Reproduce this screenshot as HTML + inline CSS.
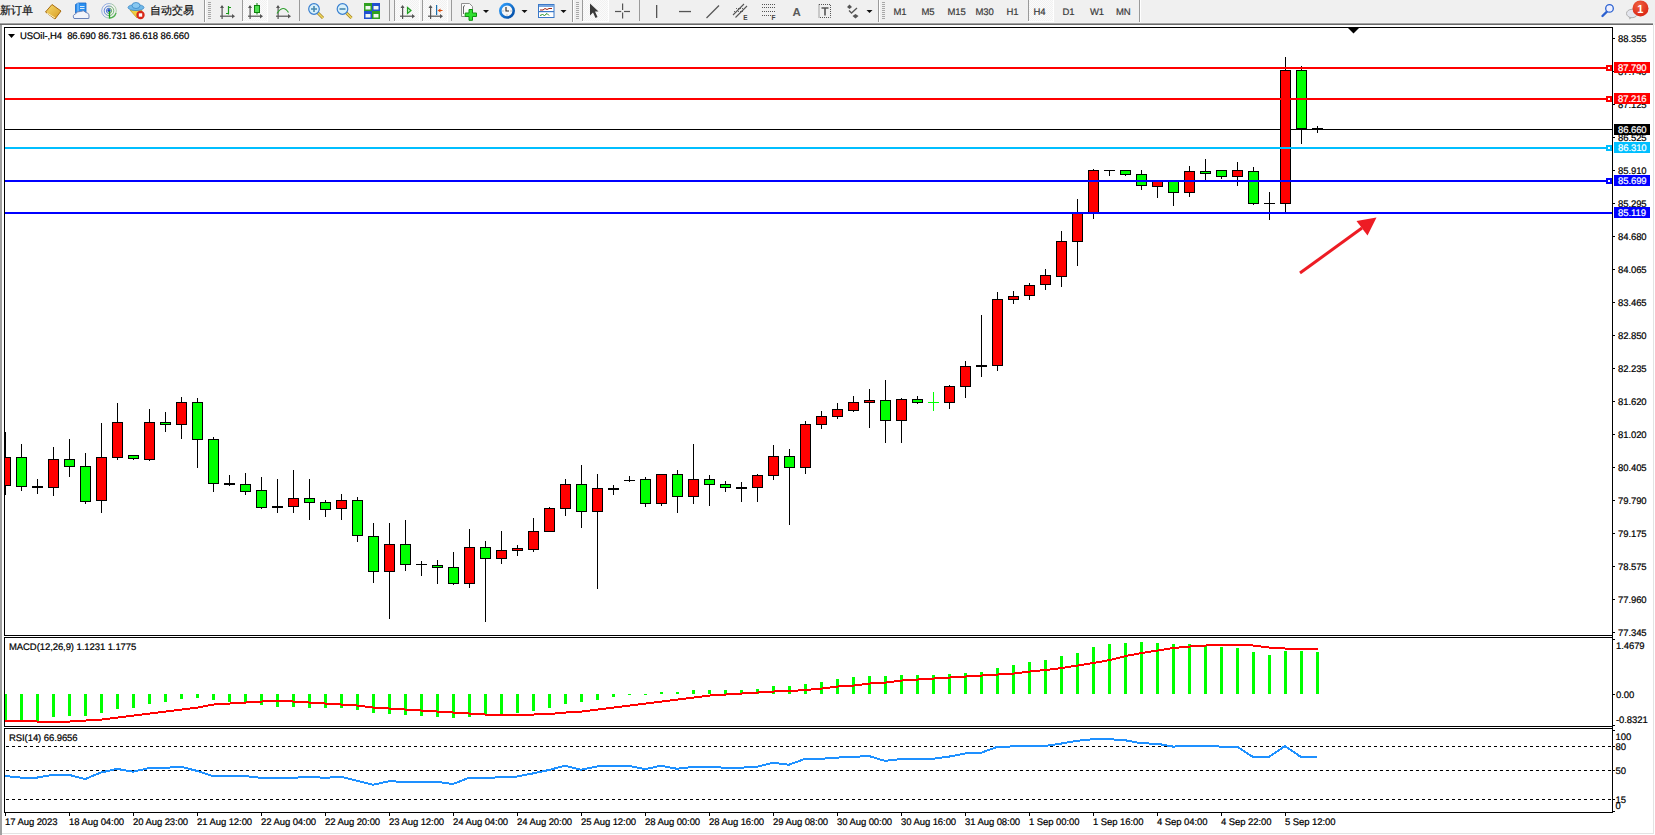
<!DOCTYPE html>
<html><head><meta charset="utf-8"><style>
html,body{margin:0;padding:0;width:1655px;height:835px;overflow:hidden;background:#fff;font-family:"Liberation Sans", sans-serif;}
#tb{position:absolute;left:0;top:0;width:1655px;height:25px;background:#f0f0f0;}
text{white-space:pre} svg text{stroke:currentColor;stroke-width:0.2px}
</style></head><body>
<div id="tb"><svg width="1655" height="25" style="position:absolute;left:0;top:0" font-family='"Liberation Sans", sans-serif'>
<defs>
<pattern id="chk" width="2" height="2" patternUnits="userSpaceOnUse"><rect width="2" height="2" fill="#fbfbfb"/><rect width="1" height="1" fill="#f1f1f1"/><rect x="1" y="1" width="1" height="1" fill="#f1f1f1"/></pattern>
<linearGradient id="clk" x1="0" y1="0" x2="1" y2="1"><stop offset="0" stop-color="#30a0ff"/><stop offset="1" stop-color="#0048a0"/></linearGradient>
<linearGradient id="gold" x1="0" y1="0" x2="1" y2="1"><stop offset="0" stop-color="#f6dc70"/><stop offset="1" stop-color="#d89a20"/></linearGradient>
<radialGradient id="badge" cx="0.4" cy="0.3" r="0.8"><stop offset="0" stop-color="#f06040"/><stop offset="1" stop-color="#d82010"/></radialGradient>
</defs>
<rect x="0" y="0" width="1655" height="22" fill="#f0f0f0"/>
<rect x="0" y="22" width="1655" height="1" fill="#f4f4f4"/>
<rect x="0" y="23" width="1653" height="1" fill="#a2a2a2"/>
<rect x="0" y="24" width="1653" height="1" fill="#6a6a6a"/>
<!-- pressed buttons -->
<rect x="243" y="0" width="24" height="21" fill="url(#chk)"/><rect x="242" y="21" width="26" height="1" fill="#fff"/><rect x="267" y="0" width="1" height="21" fill="#fff"/>
<rect x="395" y="0" width="24" height="21" fill="url(#chk)"/><rect x="394" y="21" width="26" height="1" fill="#fff"/><rect x="419" y="0" width="1" height="21" fill="#fff"/>
<rect x="423" y="0" width="24" height="21" fill="url(#chk)"/><rect x="422" y="21" width="26" height="1" fill="#fff"/><rect x="447" y="0" width="1" height="21" fill="#fff"/>
<rect x="583" y="0" width="25" height="21" fill="url(#chk)"/><rect x="582" y="21" width="27" height="1" fill="#fff"/><rect x="608" y="0" width="1" height="21" fill="#fff"/>
<rect x="1029" y="0" width="24" height="21" fill="url(#chk)"/><rect x="1028" y="21" width="26" height="1" fill="#fff"/><rect x="1053" y="0" width="1" height="21" fill="#fff"/>

<!-- separators -->
<g fill="#9a9a9a">
<rect x="204" y="0" width="1" height="22"/><rect x="242" y="0" width="1" height="21"/><rect x="299" y="0" width="1" height="21"/>
<rect x="389" y="0" width="1" height="21"/><rect x="394" y="0" width="1" height="21"/><rect x="422" y="0" width="1" height="21"/>
<rect x="451" y="0" width="1" height="21"/><rect x="572" y="0" width="1" height="22"/><rect x="582" y="0" width="1" height="21"/>
<rect x="639" y="0" width="1" height="21"/><rect x="878" y="0" width="1" height="22"/><rect x="1028" y="0" width="1" height="21"/>
<rect x="1139" y="0" width="1" height="22"/>
</g>
<g fill="#ffffff"><rect x="205" y="0" width="1" height="22"/><rect x="573" y="0" width="1" height="22"/><rect x="879" y="0" width="1" height="22"/><rect x="1140" y="0" width="1" height="22"/></g>
<!-- grips -->
<g fill="#a8a8a8">
<path d="M208 2h3v1h-3zM208 4h3v1h-3zM208 6h3v1h-3zM208 8h3v1h-3zM208 10h3v1h-3zM208 12h3v1h-3zM208 14h3v1h-3zM208 16h3v1h-3zM208 18h3v1h-3z"/>
<path d="M576 2h3v1h-3zM576 4h3v1h-3zM576 6h3v1h-3zM576 8h3v1h-3zM576 10h3v1h-3zM576 12h3v1h-3zM576 14h3v1h-3zM576 16h3v1h-3zM576 18h3v1h-3z"/>
<path d="M882 2h3v1h-3zM882 4h3v1h-3zM882 6h3v1h-3zM882 8h3v1h-3zM882 10h3v1h-3zM882 12h3v1h-3zM882 14h3v1h-3zM882 16h3v1h-3zM882 18h3v1h-3z"/>
</g>
<!-- CJK text -->
<text x="-0.5" y="13.6" font-size="11.2" fill="#1a1a1a">新订单</text>
<text x="150" y="13.6" font-size="11.2" fill="#1a1a1a">自动交易</text>
<!-- book -->
<path d="M45.5 12 L52 4.5 L61 11 L55 19 Z" fill="url(#gold)" stroke="#a86c10" stroke-width="1"/>
<path d="M47 13 L55 18" stroke="#fff3c0" stroke-width="1"/>
<!-- cloud icon -->
<path d="M75.5 4.5 L78 3 L86 3 L86 13 L75.5 13 Z" fill="#2a90f0" stroke="#1868c8" stroke-width="0.8"/>
<path d="M78 3 L78 13" stroke="#a8d4ff" stroke-width="0.9"/>
<path d="M80 6.5h4.5M80 8.5h4.5" stroke="#e8f4ff" stroke-width="0.9"/>
<path d="M74 18.5 Q72 15 75.5 14 Q76.5 11 80.5 11.5 Q83.5 9.5 86 12.5 Q90 13 88.8 18.5 Z" fill="#f2f4fa" stroke="#6a82b8" stroke-width="1"/>
<!-- radar -->
<defs><linearGradient id="rad" x1="0" y1="0" x2="1" y2="0.3"><stop offset="0.35" stop-color="#3a68d0"/><stop offset="0.75" stop-color="#58a858"/></linearGradient></defs>
<g fill="none" stroke="url(#rad)">
<circle cx="109" cy="10.8" r="7.3" stroke-width="0.9" opacity="0.55"/>
<circle cx="109" cy="10.8" r="4.8" stroke-width="1" opacity="0.8"/>
<circle cx="109" cy="10.8" r="2.6" stroke-width="1"/>
</g>
<circle cx="109" cy="10.5" r="1.6" fill="#1a48c0"/>
<path d="M109.5 11v7.5" stroke="#18a018" stroke-width="1.3"/>
<path d="M109.5 18 A7.3 7.3 0 0 0 116 13" stroke="#50b050" stroke-width="1.3" fill="none"/>
<!-- auto trade -->
<path d="M130 10 L142 10 L137 18 Z" fill="#f0d040" stroke="#c0a020" stroke-width="0.8"/>
<ellipse cx="136" cy="7.5" rx="8" ry="3" fill="#70b8e8" stroke="#3a88c8" stroke-width="0.8"/>
<ellipse cx="136" cy="5.5" rx="4" ry="3" fill="#88c8f0" stroke="#3a88c8" stroke-width="0.8"/>
<circle cx="140.5" cy="15" r="4.2" fill="#d82818"/>
<rect x="138.8" y="13.3" width="3.4" height="3.4" fill="#fff"/>
<!-- bar chart icon -->
<g fill="#555">
<path d="M222 5 L224 8 L220 8 Z"/><rect x="221.5" y="6" width="1.2" height="13"/><rect x="220" y="15.6" width="13" height="1.2"/><path d="M235 16.2 L232 14 L232 18.4 Z"/>
<path d="M250 5 L252 8 L248 8 Z"/><rect x="249.5" y="6" width="1.2" height="13"/><rect x="248" y="15.6" width="13" height="1.2"/><path d="M263 16.2 L260 14 L260 18.4 Z"/>
<path d="M278 5 L280 8 L276 8 Z"/><rect x="277.5" y="6" width="1.2" height="13"/><rect x="276" y="15.6" width="13" height="1.2"/><path d="M291 16.2 L288 14 L288 18.4 Z"/>
<path d="M402.5 5 L404.5 8 L400.5 8 Z"/><rect x="402" y="6" width="1.2" height="13"/><rect x="400" y="15.6" width="13" height="1.2"/><path d="M415 16.2 L412 14 L412 18.4 Z"/>
<path d="M430.5 5 L432.5 8 L428.5 8 Z"/><rect x="430" y="6" width="1.2" height="13"/><rect x="428" y="15.6" width="13" height="1.2"/><path d="M443 16.2 L440 14 L440 18.4 Z"/>
</g>
<path d="M228.5 6v8.5M226 13.5h2.5M228.5 7.5h2.5" stroke="#1a9a1a" stroke-width="1.2" fill="none"/>
<rect x="256.5" y="3" width="1" height="11.5" fill="#108010"/>
<rect x="254.5" y="5.5" width="5" height="7" fill="#50e050" stroke="#108010" stroke-width="1"/>
<path d="M277 13.5 Q283 4 288.5 12.5" stroke="#30a030" stroke-width="1.2" fill="none"/>
<path d="M407.5 7.5 L411 10.5 L407.5 13.5 Z" fill="#c8f0c8" stroke="#20a020" stroke-width="1.2"/>
<rect x="436" y="5" width="1.2" height="10" fill="#1a70b0"/>
<path d="M437.5 10.5 L440.5 8.5 L440.5 12.5 Z M440 10h2.5v1h-2.5z" fill="#e05010"/>
<!-- zoom in/out -->
<g>
<path d="M317.5 12.5 L323 18" stroke="#a08020" stroke-width="3"/><path d="M317.5 12.5 L323 18" stroke="#f0d860" stroke-width="1.6"/>
<circle cx="314" cy="9" r="5.3" fill="#d8f0fa" stroke="#3a80d0" stroke-width="1.2"/>
<path d="M311 9h6M314 6v6" stroke="#4888b0" stroke-width="1.6"/>
<path d="M346 12.5 L351.5 18" stroke="#a08020" stroke-width="3"/><path d="M346 12.5 L351.5 18" stroke="#f0d860" stroke-width="1.6"/>
<circle cx="342.5" cy="9" r="5.3" fill="#d8f0fa" stroke="#3a80d0" stroke-width="1.2"/>
<path d="M339.5 9h6" stroke="#4888b0" stroke-width="1.6"/>
</g>
<!-- tile -->
<rect x="364" y="3" width="8" height="8" fill="#30a020"/><rect x="372" y="3" width="8" height="8" fill="#2050d0"/>
<rect x="364" y="11" width="8" height="8" fill="#2050d0"/><rect x="372" y="11" width="8" height="8" fill="#30a020"/>
<g fill="#f0f8f0"><rect x="365.5" y="6" width="5" height="3.5"/><rect x="373.5" y="6" width="5" height="3.5"/><rect x="365.5" y="14" width="5" height="3.5"/><rect x="373.5" y="14" width="5" height="3.5"/></g>
<!-- new chart -->
<path d="M461.5 3.5h8l3 3v10h-11z" fill="#fafafa" stroke="#909090" stroke-width="1"/>
<path d="M469 9.5h3.5v3.5h4v3.5h-4v3.8h-3.5v-3.8h-3.8v-3.5h3.8z" fill="#30e030" stroke="#109010" stroke-width="1"/><path d="M463.5 7.5 Q463 6 465 5.5 M463.5 7v7" stroke="#444" stroke-width="0.8" fill="none"/>
<!-- dropdown arrows -->
<g fill="#111"><path d="M483 10h6l-3 3z"/><path d="M521.5 10h6l-3 3z"/><path d="M560.5 10h6l-3 3z"/><path d="M866.5 10h6l-3 3z"/></g>
<!-- clock -->
<circle cx="507" cy="10.8" r="6.7" fill="#f6f6f6" stroke="url(#clk)" stroke-width="2.6"/>
<path d="M506 7v4h3" stroke="#222" stroke-width="1.1" fill="none"/><g fill="#999"><rect x="502.5" y="10.5" width="1" height="1"/><rect x="510.5" y="10.5" width="1" height="1"/><rect x="506.5" y="14.5" width="1" height="1"/></g>
<!-- template -->
<rect x="538.5" y="4.5" width="15.5" height="13" fill="#fff" stroke="#3a78c8" stroke-width="1"/>
<rect x="539" y="5" width="15" height="2" fill="#7aa8e0"/>
<rect x="539" y="11" width="15" height="1.2" fill="#3a78c8"/>
<path d="M540 10 L543 10 L545 8.5 L547 9.5 L549 8.5 L552 8.5" stroke="#a02010" stroke-width="1" fill="none"/>
<path d="M540 15.5 L542.5 14.5 L544.5 15.5 L547 13.5 L549 15.5" stroke="#209020" stroke-width="1" fill="none"/>
<!-- cursor -->
<path d="M590 3.5 L590 15.5 L593 12.5 L595.5 18 L597.5 17 L595 11.5 L598.5 11.5 Z" fill="#3a3a3a"/>
<!-- crosshair -->
<g fill="#555"><rect x="622" y="3.5" width="1.2" height="6.5"/><rect x="622" y="12.5" width="1.2" height="6"/><rect x="615" y="10.9" width="6.2" height="1.2"/><rect x="624" y="10.9" width="6" height="1.2"/></g>
<!-- vline hline trendline -->
<rect x="656" y="5" width="1.3" height="13" fill="#555"/>
<rect x="679" y="10.9" width="12" height="1.3" fill="#555"/>
<path d="M706.5 18 L719 5.5" stroke="#555" stroke-width="1.2"/>
<!-- equidistant channel -->
<path d="M733 15 L744 4 M735.5 17.5 L747 6" stroke="#555" stroke-width="1.1"/>
<path d="M734 11.5l9 0 M736 8.5l8 0" stroke="#555" stroke-width="0.9" stroke-dasharray="1,1"/>
<text x="743.3" y="20" font-size="6.5" font-weight="bold" fill="#444" style="stroke-width:0">E</text>
<!-- fibo -->
<g stroke="#555" stroke-width="1" stroke-dasharray="1,1"><path d="M762 4.5h14M762 7.5h14M762 11.5h14M762 15.5h9"/></g>
<text x="771.5" y="20" font-size="6.5" font-weight="bold" fill="#444" style="stroke-width:0">F</text>
<!-- A -->
<text x="792.6" y="15.6" font-size="11.5" font-weight="bold" fill="#5a5a5a" style="stroke-width:0">A</text>
<!-- text label -->
<rect x="819" y="4.5" width="11.5" height="13" fill="none" stroke="#555" stroke-width="1" stroke-dasharray="1,1"/>
<path d="M821.5 8h7M825 8v7.5" stroke="#555" stroke-width="1.6"/>
<!-- arrows icon -->
<path d="M849.5 4.5 L852 7 L849.5 9 L847 7 Z M855.5 14 L858.5 16 L855.5 18.5 L852.5 16 Z" fill="#555"/>
<path d="M849 10.5 L851.5 13 L857 8" stroke="#555" stroke-width="1.3" fill="none"/>
<!-- periods -->
<g font-size="9.5" fill="#3a3a3a" text-rendering="geometricPrecision" letter-spacing="-0.1" style="stroke-width:0.1px;color:#3a3a3a">
<text x="893.5" y="15.2">M1</text><text x="921.5" y="15.2">M5</text><text x="947.5" y="15.2">M15</text><text x="975.5" y="15.2">M30</text>
<text x="1006.5" y="15.2">H1</text><text x="1033.5" y="15.2">H4</text><text x="1062.5" y="15.2">D1</text><text x="1090" y="15.2">W1</text><text x="1116" y="15.2">MN</text>
</g>
<!-- search -->
<path d="M1602.5 16 L1607 11.5" stroke="#2a60d0" stroke-width="2.4" stroke-linecap="round"/>
<circle cx="1609.5" cy="8.4" r="3.8" fill="#eef0ff" stroke="#2a60d0" stroke-width="1.3"/>
<!-- chat + badge -->
<ellipse cx="1632" cy="13.5" rx="5.5" ry="4.2" fill="#e4e6ee" stroke="#a8a8a8" stroke-width="0.9"/>
<path d="M1629 17 L1629.5 19.5 L1632 17.5" fill="#b0b0b0"/>
<circle cx="1640.5" cy="8.4" r="8" fill="url(#badge)"/>
<text x="1637.3" y="13" font-size="11" font-weight="bold" fill="#fff" style="color:#fff;stroke-width:0" font-family='"Liberation Sans", sans-serif'>1</text>
</svg>
</div>
<svg width="1655" height="810" viewBox="0 25 1655 810" style="position:absolute;left:0;top:25px" shape-rendering="crispEdges" font-family='"Liberation Sans", sans-serif' font-size="9.5" text-rendering="geometricPrecision" letter-spacing="-0.08">
<defs>
<clipPath id="cm"><rect x="5" y="28" width="1607" height="607"/></clipPath>
<clipPath id="cd"><rect x="5" y="638" width="1607" height="88"/></clipPath>
<clipPath id="cr"><rect x="5" y="729" width="1607" height="83"/></clipPath>
</defs>
<rect x="0" y="25" width="1655" height="810" fill="#fff"/>
<rect x="0" y="25" width="2" height="810" fill="#a0a0a0"/>
<rect x="1653" y="25" width="1" height="809" fill="#e3e3e3"/>
<rect x="2" y="833" width="1652" height="1" fill="#e3e3e3"/>
<!-- frames -->
<rect x="4" y="27" width="1609" height="1" fill="#000"/>
<rect x="4" y="27" width="1" height="609" fill="#000"/>
<rect x="4" y="635" width="1609" height="1" fill="#000"/>
<rect x="4" y="637" width="1609" height="1" fill="#000"/>
<rect x="4" y="637" width="1" height="90" fill="#000"/>
<rect x="4" y="726" width="1609" height="1" fill="#000"/>
<rect x="4" y="728" width="1609" height="1" fill="#000"/>
<rect x="4" y="728" width="1" height="85" fill="#000"/>
<rect x="4" y="812" width="1609" height="1" fill="#000"/>
<rect x="1612" y="27" width="1" height="786" fill="#000"/>
<g clip-path="url(#cm)">
<rect x="5" y="129" width="1607" height="1" fill="#000"/>
<rect x="5" y="432" width="1" height="63" fill="#000"/><rect x="0" y="457" width="11" height="29" fill="#000"/><rect x="1" y="458" width="9" height="27" fill="#ff0000"/><rect x="21" y="444" width="1" height="47" fill="#000"/><rect x="16" y="457" width="11" height="30" fill="#000"/><rect x="17" y="458" width="9" height="28" fill="#00ff00"/><rect x="37" y="479" width="1" height="15" fill="#000"/><rect x="32" y="486" width="11" height="2" fill="#000"/><rect x="53" y="447" width="1" height="49" fill="#000"/><rect x="48" y="459" width="11" height="29" fill="#000"/><rect x="49" y="460" width="9" height="27" fill="#ff0000"/><rect x="69" y="439" width="1" height="38" fill="#000"/><rect x="64" y="459" width="11" height="8" fill="#000"/><rect x="65" y="460" width="9" height="6" fill="#00ff00"/><rect x="85" y="453" width="1" height="51" fill="#000"/><rect x="80" y="466" width="11" height="36" fill="#000"/><rect x="81" y="467" width="9" height="34" fill="#00ff00"/><rect x="101" y="423" width="1" height="90" fill="#000"/><rect x="96" y="457" width="11" height="44" fill="#000"/><rect x="97" y="458" width="9" height="42" fill="#ff0000"/><rect x="117" y="403" width="1" height="57" fill="#000"/><rect x="112" y="422" width="11" height="36" fill="#000"/><rect x="113" y="423" width="9" height="34" fill="#ff0000"/><rect x="133" y="455" width="1" height="5" fill="#000"/><rect x="128" y="455" width="11" height="4" fill="#000"/><rect x="129" y="456" width="9" height="2" fill="#00ff00"/><rect x="149" y="409" width="1" height="52" fill="#000"/><rect x="144" y="422" width="11" height="38" fill="#000"/><rect x="145" y="423" width="9" height="36" fill="#ff0000"/><rect x="165" y="412" width="1" height="20" fill="#000"/><rect x="160" y="422" width="11" height="3" fill="#000"/><rect x="161" y="423" width="9" height="1" fill="#00ff00"/><rect x="181" y="397" width="1" height="42" fill="#000"/><rect x="176" y="402" width="11" height="23" fill="#000"/><rect x="177" y="403" width="9" height="21" fill="#ff0000"/><rect x="197" y="398" width="1" height="70" fill="#000"/><rect x="192" y="402" width="11" height="38" fill="#000"/><rect x="193" y="403" width="9" height="36" fill="#00ff00"/><rect x="213" y="437" width="1" height="55" fill="#000"/><rect x="208" y="439" width="11" height="45" fill="#000"/><rect x="209" y="440" width="9" height="43" fill="#00ff00"/><rect x="229" y="475" width="1" height="11" fill="#000"/><rect x="224" y="483" width="11" height="2" fill="#000"/><rect x="245" y="473" width="1" height="22" fill="#000"/><rect x="240" y="484" width="11" height="8" fill="#000"/><rect x="241" y="485" width="9" height="6" fill="#00ff00"/><rect x="261" y="477" width="1" height="32" fill="#000"/><rect x="256" y="490" width="11" height="18" fill="#000"/><rect x="257" y="491" width="9" height="16" fill="#00ff00"/><rect x="277" y="479" width="1" height="34" fill="#000"/><rect x="272" y="506" width="11" height="2" fill="#000"/><rect x="293" y="470" width="1" height="43" fill="#000"/><rect x="288" y="498" width="11" height="9" fill="#000"/><rect x="289" y="499" width="9" height="7" fill="#ff0000"/><rect x="309" y="479" width="1" height="41" fill="#000"/><rect x="304" y="498" width="11" height="5" fill="#000"/><rect x="305" y="499" width="9" height="3" fill="#00ff00"/><rect x="325" y="500" width="1" height="17" fill="#000"/><rect x="320" y="502" width="11" height="8" fill="#000"/><rect x="321" y="503" width="9" height="6" fill="#00ff00"/><rect x="341" y="494" width="1" height="26" fill="#000"/><rect x="336" y="500" width="11" height="9" fill="#000"/><rect x="337" y="501" width="9" height="7" fill="#ff0000"/><rect x="357" y="497" width="1" height="45" fill="#000"/><rect x="352" y="500" width="11" height="36" fill="#000"/><rect x="353" y="501" width="9" height="34" fill="#00ff00"/><rect x="373" y="523" width="1" height="60" fill="#000"/><rect x="368" y="536" width="11" height="36" fill="#000"/><rect x="369" y="537" width="9" height="34" fill="#00ff00"/><rect x="389" y="523" width="1" height="96" fill="#000"/><rect x="384" y="544" width="11" height="28" fill="#000"/><rect x="385" y="545" width="9" height="26" fill="#ff0000"/><rect x="405" y="520" width="1" height="51" fill="#000"/><rect x="400" y="544" width="11" height="21" fill="#000"/><rect x="401" y="545" width="9" height="19" fill="#00ff00"/><rect x="421" y="561" width="1" height="15" fill="#000"/><rect x="416" y="564" width="11" height="1" fill="#000"/><rect x="437" y="560" width="1" height="24" fill="#000"/><rect x="432" y="565" width="11" height="3" fill="#000"/><rect x="433" y="566" width="9" height="1" fill="#00ff00"/><rect x="453" y="552" width="1" height="33" fill="#000"/><rect x="448" y="567" width="11" height="17" fill="#000"/><rect x="449" y="568" width="9" height="15" fill="#00ff00"/><rect x="469" y="529" width="1" height="59" fill="#000"/><rect x="464" y="547" width="11" height="37" fill="#000"/><rect x="465" y="548" width="9" height="35" fill="#ff0000"/><rect x="485" y="541" width="1" height="81" fill="#000"/><rect x="480" y="547" width="11" height="12" fill="#000"/><rect x="481" y="548" width="9" height="10" fill="#00ff00"/><rect x="501" y="531" width="1" height="33" fill="#000"/><rect x="496" y="550" width="11" height="9" fill="#000"/><rect x="497" y="551" width="9" height="7" fill="#ff0000"/><rect x="517" y="545" width="1" height="11" fill="#000"/><rect x="512" y="548" width="11" height="3" fill="#000"/><rect x="513" y="549" width="9" height="1" fill="#ff0000"/><rect x="533" y="518" width="1" height="34" fill="#000"/><rect x="528" y="531" width="11" height="19" fill="#000"/><rect x="529" y="532" width="9" height="17" fill="#ff0000"/><rect x="549" y="507" width="1" height="25" fill="#000"/><rect x="544" y="508" width="11" height="24" fill="#000"/><rect x="545" y="509" width="9" height="22" fill="#ff0000"/><rect x="565" y="479" width="1" height="37" fill="#000"/><rect x="560" y="484" width="11" height="25" fill="#000"/><rect x="561" y="485" width="9" height="23" fill="#ff0000"/><rect x="581" y="465" width="1" height="63" fill="#000"/><rect x="576" y="484" width="11" height="28" fill="#000"/><rect x="577" y="485" width="9" height="26" fill="#00ff00"/><rect x="597" y="474" width="1" height="115" fill="#000"/><rect x="592" y="488" width="11" height="24" fill="#000"/><rect x="593" y="489" width="9" height="22" fill="#ff0000"/><rect x="613" y="485" width="1" height="10" fill="#000"/><rect x="608" y="488" width="11" height="2" fill="#000"/><rect x="629" y="476" width="1" height="6" fill="#000"/><rect x="624" y="480" width="11" height="1" fill="#000"/><rect x="645" y="477" width="1" height="30" fill="#000"/><rect x="640" y="479" width="11" height="25" fill="#000"/><rect x="641" y="480" width="9" height="23" fill="#00ff00"/><rect x="661" y="474" width="1" height="32" fill="#000"/><rect x="656" y="474" width="11" height="30" fill="#000"/><rect x="657" y="475" width="9" height="28" fill="#ff0000"/><rect x="677" y="470" width="1" height="43" fill="#000"/><rect x="672" y="474" width="11" height="23" fill="#000"/><rect x="673" y="475" width="9" height="21" fill="#00ff00"/><rect x="693" y="444" width="1" height="60" fill="#000"/><rect x="688" y="479" width="11" height="18" fill="#000"/><rect x="689" y="480" width="9" height="16" fill="#ff0000"/><rect x="709" y="475" width="1" height="31" fill="#000"/><rect x="704" y="479" width="11" height="6" fill="#000"/><rect x="705" y="480" width="9" height="4" fill="#00ff00"/><rect x="725" y="481" width="1" height="11" fill="#000"/><rect x="720" y="484" width="11" height="4" fill="#000"/><rect x="721" y="485" width="9" height="2" fill="#00ff00"/><rect x="741" y="482" width="1" height="20" fill="#000"/><rect x="736" y="487" width="11" height="2" fill="#000"/><rect x="757" y="474" width="1" height="28" fill="#000"/><rect x="752" y="475" width="11" height="13" fill="#000"/><rect x="753" y="476" width="9" height="11" fill="#ff0000"/><rect x="773" y="445" width="1" height="35" fill="#000"/><rect x="768" y="456" width="11" height="20" fill="#000"/><rect x="769" y="457" width="9" height="18" fill="#ff0000"/><rect x="789" y="449" width="1" height="76" fill="#000"/><rect x="784" y="456" width="11" height="12" fill="#000"/><rect x="785" y="457" width="9" height="10" fill="#00ff00"/><rect x="805" y="421" width="1" height="53" fill="#000"/><rect x="800" y="424" width="11" height="44" fill="#000"/><rect x="801" y="425" width="9" height="42" fill="#ff0000"/><rect x="821" y="411" width="1" height="18" fill="#000"/><rect x="816" y="416" width="11" height="9" fill="#000"/><rect x="817" y="417" width="9" height="7" fill="#ff0000"/><rect x="837" y="403" width="1" height="16" fill="#000"/><rect x="832" y="409" width="11" height="8" fill="#000"/><rect x="833" y="410" width="9" height="6" fill="#ff0000"/><rect x="853" y="396" width="1" height="16" fill="#000"/><rect x="848" y="402" width="11" height="9" fill="#000"/><rect x="849" y="403" width="9" height="7" fill="#ff0000"/><rect x="869" y="389" width="1" height="39" fill="#000"/><rect x="864" y="400" width="11" height="3" fill="#000"/><rect x="865" y="401" width="9" height="1" fill="#ff0000"/><rect x="885" y="380" width="1" height="63" fill="#000"/><rect x="880" y="400" width="11" height="21" fill="#000"/><rect x="881" y="401" width="9" height="19" fill="#00ff00"/><rect x="901" y="398" width="1" height="45" fill="#000"/><rect x="896" y="399" width="11" height="22" fill="#000"/><rect x="897" y="400" width="9" height="20" fill="#ff0000"/><rect x="917" y="396" width="1" height="8" fill="#000"/><rect x="912" y="399" width="11" height="4" fill="#000"/><rect x="913" y="400" width="9" height="2" fill="#00ff00"/><rect x="933" y="392" width="1" height="19" fill="#00ff00"/><rect x="928" y="402" width="11" height="1" fill="#00ff00"/><rect x="949" y="385" width="1" height="24" fill="#000"/><rect x="944" y="386" width="11" height="17" fill="#000"/><rect x="945" y="387" width="9" height="15" fill="#ff0000"/><rect x="965" y="361" width="1" height="37" fill="#000"/><rect x="960" y="366" width="11" height="21" fill="#000"/><rect x="961" y="367" width="9" height="19" fill="#ff0000"/><rect x="981" y="315" width="1" height="62" fill="#000"/><rect x="976" y="365" width="11" height="2" fill="#000"/><rect x="997" y="292" width="1" height="79" fill="#000"/><rect x="992" y="299" width="11" height="67" fill="#000"/><rect x="993" y="300" width="9" height="65" fill="#ff0000"/><rect x="1013" y="291" width="1" height="13" fill="#000"/><rect x="1008" y="296" width="11" height="4" fill="#000"/><rect x="1009" y="297" width="9" height="2" fill="#ff0000"/><rect x="1029" y="283" width="1" height="17" fill="#000"/><rect x="1024" y="285" width="11" height="11" fill="#000"/><rect x="1025" y="286" width="9" height="9" fill="#ff0000"/><rect x="1045" y="269" width="1" height="21" fill="#000"/><rect x="1040" y="275" width="11" height="10" fill="#000"/><rect x="1041" y="276" width="9" height="8" fill="#ff0000"/><rect x="1061" y="231" width="1" height="56" fill="#000"/><rect x="1056" y="241" width="11" height="36" fill="#000"/><rect x="1057" y="242" width="9" height="34" fill="#ff0000"/><rect x="1077" y="199" width="1" height="67" fill="#000"/><rect x="1072" y="213" width="11" height="29" fill="#000"/><rect x="1073" y="214" width="9" height="27" fill="#ff0000"/><rect x="1093" y="169" width="1" height="50" fill="#000"/><rect x="1088" y="170" width="11" height="43" fill="#000"/><rect x="1089" y="171" width="9" height="41" fill="#ff0000"/><rect x="1109" y="170" width="1" height="6" fill="#000"/><rect x="1104" y="170" width="11" height="1" fill="#000"/><rect x="1125" y="170" width="1" height="6" fill="#000"/><rect x="1120" y="170" width="11" height="5" fill="#000"/><rect x="1121" y="171" width="9" height="3" fill="#00ff00"/><rect x="1141" y="170" width="1" height="20" fill="#000"/><rect x="1136" y="174" width="11" height="12" fill="#000"/><rect x="1137" y="175" width="9" height="10" fill="#00ff00"/><rect x="1157" y="181" width="1" height="17" fill="#000"/><rect x="1152" y="181" width="11" height="6" fill="#000"/><rect x="1153" y="182" width="9" height="4" fill="#ff0000"/><rect x="1173" y="181" width="1" height="25" fill="#000"/><rect x="1168" y="181" width="11" height="12" fill="#000"/><rect x="1169" y="182" width="9" height="10" fill="#00ff00"/><rect x="1189" y="166" width="1" height="31" fill="#000"/><rect x="1184" y="171" width="11" height="22" fill="#000"/><rect x="1185" y="172" width="9" height="20" fill="#ff0000"/><rect x="1205" y="159" width="1" height="21" fill="#000"/><rect x="1200" y="171" width="11" height="3" fill="#000"/><rect x="1201" y="172" width="9" height="1" fill="#00ff00"/><rect x="1221" y="170" width="1" height="9" fill="#000"/><rect x="1216" y="170" width="11" height="7" fill="#000"/><rect x="1217" y="171" width="9" height="5" fill="#00ff00"/><rect x="1237" y="162" width="1" height="24" fill="#000"/><rect x="1232" y="170" width="11" height="7" fill="#000"/><rect x="1233" y="171" width="9" height="5" fill="#ff0000"/><rect x="1253" y="167" width="1" height="38" fill="#000"/><rect x="1248" y="171" width="11" height="33" fill="#000"/><rect x="1249" y="172" width="9" height="31" fill="#00ff00"/><rect x="1269" y="192" width="1" height="28" fill="#000"/><rect x="1264" y="203" width="11" height="1" fill="#000"/><rect x="1285" y="57" width="1" height="156" fill="#000"/><rect x="1280" y="70" width="11" height="134" fill="#000"/><rect x="1281" y="71" width="9" height="132" fill="#ff0000"/><rect x="1301" y="66" width="1" height="78" fill="#000"/><rect x="1296" y="70" width="11" height="59" fill="#000"/><rect x="1297" y="71" width="9" height="57" fill="#00ff00"/><rect x="1317" y="126" width="1" height="7" fill="#000"/><rect x="1312" y="128" width="11" height="1" fill="#000"/>
<rect x="5" y="67" width="1607" height="2" fill="#ff0000"/><rect x="1606" y="65" width="6" height="6" fill="#ff0000"/><rect x="1608" y="67" width="2" height="2" fill="#fff"/><rect x="5" y="98" width="1607" height="2" fill="#ff0000"/><rect x="1606" y="96" width="6" height="6" fill="#ff0000"/><rect x="1608" y="98" width="2" height="2" fill="#fff"/><rect x="5" y="147" width="1607" height="2" fill="#00bfff"/><rect x="1606" y="145" width="6" height="6" fill="#00bfff"/><rect x="1608" y="147" width="2" height="2" fill="#fff"/><rect x="5" y="180" width="1607" height="2" fill="#0000ff"/><rect x="1606" y="178" width="6" height="6" fill="#0000ff"/><rect x="1608" y="180" width="2" height="2" fill="#fff"/><rect x="5" y="212" width="1607" height="2" fill="#0000ff"/>
<polygon points="1348,28 1359,28 1353.5,33.5" fill="#000" shape-rendering="geometricPrecision"/>
<g shape-rendering="geometricPrecision" fill="#ed1c24" stroke="none">
<line x1="1300" y1="273" x2="1362" y2="228" stroke="#ed1c24" stroke-width="3"/>
<polygon points="1376.5,217.5 1356.5,221 1367.5,235.5"/>
</g>
</g>
<g clip-path="url(#cd)">
<rect x="4" y="694" width="3" height="27" fill="#00ff00"/><rect x="20" y="694" width="3" height="27" fill="#00ff00"/><rect x="36" y="694" width="3" height="27" fill="#00ff00"/><rect x="52" y="694" width="3" height="23" fill="#00ff00"/><rect x="68" y="694" width="3" height="22" fill="#00ff00"/><rect x="84" y="694" width="3" height="22" fill="#00ff00"/><rect x="100" y="694" width="3" height="19" fill="#00ff00"/><rect x="116" y="694" width="3" height="15" fill="#00ff00"/><rect x="132" y="694" width="3" height="14" fill="#00ff00"/><rect x="148" y="694" width="3" height="10" fill="#00ff00"/><rect x="164" y="694" width="3" height="8" fill="#00ff00"/><rect x="180" y="694" width="3" height="5" fill="#00ff00"/><rect x="196" y="694" width="3" height="4" fill="#00ff00"/><rect x="212" y="694" width="3" height="6" fill="#00ff00"/><rect x="228" y="694" width="3" height="8" fill="#00ff00"/><rect x="244" y="694" width="3" height="8" fill="#00ff00"/><rect x="260" y="694" width="3" height="11" fill="#00ff00"/><rect x="276" y="694" width="3" height="13" fill="#00ff00"/><rect x="292" y="694" width="3" height="13" fill="#00ff00"/><rect x="308" y="694" width="3" height="14" fill="#00ff00"/><rect x="324" y="694" width="3" height="14" fill="#00ff00"/><rect x="340" y="694" width="3" height="14" fill="#00ff00"/><rect x="356" y="694" width="3" height="16" fill="#00ff00"/><rect x="372" y="694" width="3" height="19" fill="#00ff00"/><rect x="388" y="694" width="3" height="20" fill="#00ff00"/><rect x="404" y="694" width="3" height="21" fill="#00ff00"/><rect x="420" y="694" width="3" height="22" fill="#00ff00"/><rect x="436" y="694" width="3" height="23" fill="#00ff00"/><rect x="452" y="694" width="3" height="24" fill="#00ff00"/><rect x="468" y="694" width="3" height="23" fill="#00ff00"/><rect x="484" y="694" width="3" height="21" fill="#00ff00"/><rect x="500" y="694" width="3" height="20" fill="#00ff00"/><rect x="516" y="694" width="3" height="19" fill="#00ff00"/><rect x="532" y="694" width="3" height="17" fill="#00ff00"/><rect x="548" y="694" width="3" height="14" fill="#00ff00"/><rect x="564" y="694" width="3" height="10" fill="#00ff00"/><rect x="580" y="694" width="3" height="8" fill="#00ff00"/><rect x="596" y="694" width="3" height="6" fill="#00ff00"/><rect x="612" y="694" width="3" height="3" fill="#00ff00"/><rect x="628" y="694" width="3" height="1" fill="#00ff00"/><rect x="644" y="694" width="3" height="1" fill="#00ff00"/><rect x="660" y="692" width="3" height="2" fill="#00ff00"/><rect x="676" y="692" width="3" height="2" fill="#00ff00"/><rect x="692" y="690" width="3" height="4" fill="#00ff00"/><rect x="708" y="690" width="3" height="4" fill="#00ff00"/><rect x="724" y="690" width="3" height="4" fill="#00ff00"/><rect x="740" y="690" width="3" height="4" fill="#00ff00"/><rect x="756" y="689" width="3" height="5" fill="#00ff00"/><rect x="772" y="686" width="3" height="8" fill="#00ff00"/><rect x="788" y="686" width="3" height="8" fill="#00ff00"/><rect x="804" y="684" width="3" height="10" fill="#00ff00"/><rect x="820" y="682" width="3" height="12" fill="#00ff00"/><rect x="836" y="679" width="3" height="15" fill="#00ff00"/><rect x="852" y="677" width="3" height="17" fill="#00ff00"/><rect x="868" y="676" width="3" height="18" fill="#00ff00"/><rect x="884" y="676" width="3" height="18" fill="#00ff00"/><rect x="900" y="675" width="3" height="19" fill="#00ff00"/><rect x="916" y="675" width="3" height="19" fill="#00ff00"/><rect x="932" y="675" width="3" height="19" fill="#00ff00"/><rect x="948" y="674" width="3" height="20" fill="#00ff00"/><rect x="964" y="673" width="3" height="21" fill="#00ff00"/><rect x="980" y="672" width="3" height="22" fill="#00ff00"/><rect x="996" y="668" width="3" height="26" fill="#00ff00"/><rect x="1012" y="665" width="3" height="29" fill="#00ff00"/><rect x="1028" y="662" width="3" height="32" fill="#00ff00"/><rect x="1044" y="660" width="3" height="34" fill="#00ff00"/><rect x="1060" y="656" width="3" height="38" fill="#00ff00"/><rect x="1076" y="653" width="3" height="41" fill="#00ff00"/><rect x="1092" y="647" width="3" height="47" fill="#00ff00"/><rect x="1108" y="644" width="3" height="50" fill="#00ff00"/><rect x="1124" y="643" width="3" height="51" fill="#00ff00"/><rect x="1140" y="642" width="3" height="52" fill="#00ff00"/><rect x="1156" y="643" width="3" height="51" fill="#00ff00"/><rect x="1172" y="644" width="3" height="50" fill="#00ff00"/><rect x="1188" y="644" width="3" height="50" fill="#00ff00"/><rect x="1204" y="646" width="3" height="48" fill="#00ff00"/><rect x="1220" y="647" width="3" height="47" fill="#00ff00"/><rect x="1236" y="648" width="3" height="46" fill="#00ff00"/><rect x="1252" y="652" width="3" height="42" fill="#00ff00"/><rect x="1268" y="655" width="3" height="39" fill="#00ff00"/><rect x="1284" y="651" width="3" height="43" fill="#00ff00"/><rect x="1300" y="651" width="3" height="43" fill="#00ff00"/><rect x="1316" y="652" width="3" height="42" fill="#00ff00"/>
<rect x="5" y="720" width="32" height="2" fill="#ff0000"/><rect x="37" y="721" width="33" height="2" fill="#ff0000"/><rect x="70" y="720" width="16" height="2" fill="#ff0000"/><rect x="86" y="719" width="16" height="2" fill="#ff0000"/><rect x="102" y="718" width="8" height="2" fill="#ff0000"/><rect x="110" y="717" width="8" height="2" fill="#ff0000"/><rect x="118" y="716" width="8" height="2" fill="#ff0000"/><rect x="126" y="715" width="8" height="2" fill="#ff0000"/><rect x="134" y="714" width="8" height="2" fill="#ff0000"/><rect x="142" y="713" width="8" height="2" fill="#ff0000"/><rect x="150" y="712" width="8" height="2" fill="#ff0000"/><rect x="158" y="711" width="8" height="2" fill="#ff0000"/><rect x="166" y="710" width="8" height="2" fill="#ff0000"/><rect x="174" y="709" width="8" height="2" fill="#ff0000"/><rect x="182" y="708" width="8" height="2" fill="#ff0000"/><rect x="190" y="707" width="8" height="2" fill="#ff0000"/><rect x="198" y="706" width="5" height="2" fill="#ff0000"/><rect x="203" y="705" width="5" height="2" fill="#ff0000"/><rect x="208" y="704" width="6" height="2" fill="#ff0000"/><rect x="214" y="703" width="16" height="2" fill="#ff0000"/><rect x="230" y="702" width="16" height="2" fill="#ff0000"/><rect x="246" y="701" width="16" height="2" fill="#ff0000"/><rect x="262" y="700" width="31" height="2" fill="#ff0000"/><rect x="293" y="701" width="16" height="2" fill="#ff0000"/><rect x="309" y="702" width="16" height="2" fill="#ff0000"/><rect x="325" y="703" width="16" height="2" fill="#ff0000"/><rect x="341" y="704" width="16" height="2" fill="#ff0000"/><rect x="357" y="705" width="8" height="2" fill="#ff0000"/><rect x="365" y="706" width="8" height="2" fill="#ff0000"/><rect x="373" y="707" width="16" height="2" fill="#ff0000"/><rect x="389" y="708" width="16" height="2" fill="#ff0000"/><rect x="405" y="709" width="16" height="2" fill="#ff0000"/><rect x="421" y="710" width="16" height="2" fill="#ff0000"/><rect x="437" y="711" width="16" height="2" fill="#ff0000"/><rect x="453" y="712" width="16" height="2" fill="#ff0000"/><rect x="469" y="713" width="16" height="2" fill="#ff0000"/><rect x="485" y="714" width="49" height="2" fill="#ff0000"/><rect x="534" y="713" width="21" height="2" fill="#ff0000"/><rect x="555" y="712" width="11" height="2" fill="#ff0000"/><rect x="566" y="711" width="16" height="2" fill="#ff0000"/><rect x="582" y="710" width="8" height="2" fill="#ff0000"/><rect x="590" y="709" width="8" height="2" fill="#ff0000"/><rect x="598" y="708" width="8" height="2" fill="#ff0000"/><rect x="606" y="707" width="8" height="2" fill="#ff0000"/><rect x="614" y="706" width="8" height="2" fill="#ff0000"/><rect x="622" y="705" width="8" height="2" fill="#ff0000"/><rect x="630" y="704" width="8" height="2" fill="#ff0000"/><rect x="638" y="703" width="8" height="2" fill="#ff0000"/><rect x="646" y="702" width="8" height="2" fill="#ff0000"/><rect x="654" y="701" width="8" height="2" fill="#ff0000"/><rect x="662" y="700" width="8" height="2" fill="#ff0000"/><rect x="670" y="699" width="8" height="2" fill="#ff0000"/><rect x="678" y="698" width="8" height="2" fill="#ff0000"/><rect x="686" y="697" width="8" height="2" fill="#ff0000"/><rect x="694" y="696" width="8" height="2" fill="#ff0000"/><rect x="702" y="695" width="8" height="2" fill="#ff0000"/><rect x="710" y="694" width="16" height="2" fill="#ff0000"/><rect x="726" y="693" width="16" height="2" fill="#ff0000"/><rect x="742" y="692" width="16" height="2" fill="#ff0000"/><rect x="758" y="691" width="16" height="2" fill="#ff0000"/><rect x="774" y="690" width="24" height="2" fill="#ff0000"/><rect x="798" y="689" width="13" height="2" fill="#ff0000"/><rect x="811" y="688" width="11" height="2" fill="#ff0000"/><rect x="822" y="687" width="8" height="2" fill="#ff0000"/><rect x="830" y="686" width="8" height="2" fill="#ff0000"/><rect x="838" y="685" width="16" height="2" fill="#ff0000"/><rect x="854" y="684" width="8" height="2" fill="#ff0000"/><rect x="862" y="683" width="8" height="2" fill="#ff0000"/><rect x="870" y="682" width="16" height="2" fill="#ff0000"/><rect x="886" y="681" width="8" height="2" fill="#ff0000"/><rect x="894" y="680" width="8" height="2" fill="#ff0000"/><rect x="902" y="679" width="16" height="2" fill="#ff0000"/><rect x="918" y="678" width="16" height="2" fill="#ff0000"/><rect x="934" y="677" width="16" height="2" fill="#ff0000"/><rect x="950" y="676" width="16" height="2" fill="#ff0000"/><rect x="966" y="675" width="16" height="2" fill="#ff0000"/><rect x="982" y="674" width="16" height="2" fill="#ff0000"/><rect x="998" y="673" width="16" height="2" fill="#ff0000"/><rect x="1014" y="672" width="8" height="2" fill="#ff0000"/><rect x="1022" y="671" width="8" height="2" fill="#ff0000"/><rect x="1030" y="670" width="10" height="2" fill="#ff0000"/><rect x="1040" y="669" width="10" height="2" fill="#ff0000"/><rect x="1050" y="668" width="8" height="2" fill="#ff0000"/><rect x="1058" y="667" width="7" height="2" fill="#ff0000"/><rect x="1065" y="666" width="6" height="2" fill="#ff0000"/><rect x="1071" y="665" width="7" height="2" fill="#ff0000"/><rect x="1078" y="664" width="6" height="2" fill="#ff0000"/><rect x="1084" y="663" width="6" height="2" fill="#ff0000"/><rect x="1090" y="662" width="6" height="2" fill="#ff0000"/><rect x="1096" y="661" width="6" height="2" fill="#ff0000"/><rect x="1102" y="660" width="5" height="2" fill="#ff0000"/><rect x="1107" y="659" width="5" height="2" fill="#ff0000"/><rect x="1112" y="658" width="4" height="2" fill="#ff0000"/><rect x="1116" y="657" width="4" height="2" fill="#ff0000"/><rect x="1120" y="656" width="4" height="2" fill="#ff0000"/><rect x="1124" y="655" width="4" height="2" fill="#ff0000"/><rect x="1128" y="654" width="6" height="2" fill="#ff0000"/><rect x="1134" y="653" width="5" height="2" fill="#ff0000"/><rect x="1139" y="652" width="6" height="2" fill="#ff0000"/><rect x="1145" y="651" width="6" height="2" fill="#ff0000"/><rect x="1151" y="650" width="7" height="2" fill="#ff0000"/><rect x="1158" y="649" width="6" height="2" fill="#ff0000"/><rect x="1164" y="648" width="6" height="2" fill="#ff0000"/><rect x="1170" y="647" width="9" height="2" fill="#ff0000"/><rect x="1179" y="646" width="11" height="2" fill="#ff0000"/><rect x="1190" y="645" width="16" height="2" fill="#ff0000"/><rect x="1206" y="644" width="47" height="2" fill="#ff0000"/><rect x="1253" y="645" width="8" height="2" fill="#ff0000"/><rect x="1261" y="646" width="8" height="2" fill="#ff0000"/><rect x="1269" y="647" width="16" height="2" fill="#ff0000"/><rect x="1285" y="648" width="33" height="2" fill="#ff0000"/>
</g>
<g clip-path="url(#cr)">
<rect x="5" y="746" width="1607" height="1" fill="none" stroke="none"/>
<line x1="6" y1="746.5" x2="1612" y2="746.5" stroke="#000" stroke-dasharray="3,3"/>
<line x1="6" y1="770.5" x2="1612" y2="770.5" stroke="#000" stroke-dasharray="3,3"/>
<line x1="6" y1="799.5" x2="1612" y2="799.5" stroke="#000" stroke-dasharray="3,3"/>
<polyline points="5,776 21,777.6 37,777.6 53,774.8 69,774.8 85,779.1 101,772.5 117,768.9 133,771.7 149,768.1 165,767.8 181,766.8 197,770.9 213,776.1 229,776.1 245,776.1 261,777.8 277,777.8 293,777.8 309,776.8 325,777.8 341,776.8 357,780.7 373,784.8 389,781.2 405,781.9 421,781.9 437,781.9 453,784 469,777.8 485,778 501,777.2 517,776.5 533,773.4 549,770 565,765.7 581,769.8 597,766.5 613,765.9 629,765.9 645,769.2 661,765.7 677,768.8 693,766.9 709,766.9 725,767.7 741,767.7 757,766.7 773,762.8 789,764.7 805,758.9 821,758.8 837,757.6 853,756.8 869,756.1 885,760.9 901,759.1 917,759.1 933,758.8 949,756.6 965,753.5 981,752.8 997,747 1013,746.4 1029,745.9 1045,745.9 1061,743.6 1077,740.8 1093,739.2 1109,739.2 1125,740.2 1141,743.3 1157,743.7 1173,746.6 1189,745.7 1205,746 1221,746.6 1237,746.6 1253,757 1269,757 1285,746 1301,757 1317,757" fill="none" stroke="#1e90ff" stroke-width="2"/>
</g>
<g shape-rendering="geometricPrecision">
<rect x="1613" y="38" width="2" height="1" fill="#000"/><text x="1618" y="42">88.355</text><rect x="1613" y="71" width="2" height="1" fill="#000"/><text x="1618" y="75">87.740</text><rect x="1613" y="104" width="2" height="1" fill="#000"/><text x="1618" y="108">87.125</text><rect x="1613" y="137" width="2" height="1" fill="#000"/><text x="1618" y="141">86.525</text><rect x="1613" y="170" width="2" height="1" fill="#000"/><text x="1618" y="174">85.910</text><rect x="1613" y="203" width="2" height="1" fill="#000"/><text x="1618" y="207">85.295</text><rect x="1613" y="236" width="2" height="1" fill="#000"/><text x="1618" y="240">84.680</text><rect x="1613" y="269" width="2" height="1" fill="#000"/><text x="1618" y="273">84.065</text><rect x="1613" y="302" width="2" height="1" fill="#000"/><text x="1618" y="306">83.465</text><rect x="1613" y="335" width="2" height="1" fill="#000"/><text x="1618" y="339">82.850</text><rect x="1613" y="368" width="2" height="1" fill="#000"/><text x="1618" y="372">82.235</text><rect x="1613" y="401" width="2" height="1" fill="#000"/><text x="1618" y="405">81.620</text><rect x="1613" y="434" width="2" height="1" fill="#000"/><text x="1618" y="438">81.020</text><rect x="1613" y="467" width="2" height="1" fill="#000"/><text x="1618" y="471">80.405</text><rect x="1613" y="500" width="2" height="1" fill="#000"/><text x="1618" y="504">79.790</text><rect x="1613" y="533" width="2" height="1" fill="#000"/><text x="1618" y="537">79.175</text><rect x="1613" y="566" width="2" height="1" fill="#000"/><text x="1618" y="570">78.575</text><rect x="1613" y="599" width="2" height="1" fill="#000"/><text x="1618" y="603">77.960</text><rect x="1613" y="632" width="2" height="1" fill="#000"/><text x="1618" y="636">77.345</text><rect x="1613" y="639" width="2" height="1" fill="#000"/><text x="1616" y="649">1.4679</text><rect x="1613" y="694" width="2" height="1" fill="#000"/><text x="1616" y="698">0.00</text><rect x="1613" y="725" width="2" height="1" fill="#000"/><text x="1616" y="723">-0.8321</text><rect x="1613" y="730" width="2" height="1" fill="#000"/><text x="1615.5" y="740">100</text><rect x="1613" y="746" width="2" height="1" fill="#000"/><text x="1615.5" y="750">80</text><rect x="1613" y="770" width="2" height="1" fill="#000"/><text x="1615.5" y="774">50</text><rect x="1613" y="799" width="2" height="1" fill="#000"/><text x="1615.5" y="803">15</text><rect x="1613" y="811" width="2" height="1" fill="#000"/><text x="1615.5" y="809">0</text><rect x="5" y="812" width="1" height="4" fill="#000"/><text x="5" y="825">17 Aug 2023</text><rect x="69" y="812" width="1" height="4" fill="#000"/><text x="69" y="825">18 Aug 04:00</text><rect x="133" y="812" width="1" height="4" fill="#000"/><text x="133" y="825">20 Aug 23:00</text><rect x="197" y="812" width="1" height="4" fill="#000"/><text x="197" y="825">21 Aug 12:00</text><rect x="261" y="812" width="1" height="4" fill="#000"/><text x="261" y="825">22 Aug 04:00</text><rect x="325" y="812" width="1" height="4" fill="#000"/><text x="325" y="825">22 Aug 20:00</text><rect x="389" y="812" width="1" height="4" fill="#000"/><text x="389" y="825">23 Aug 12:00</text><rect x="453" y="812" width="1" height="4" fill="#000"/><text x="453" y="825">24 Aug 04:00</text><rect x="517" y="812" width="1" height="4" fill="#000"/><text x="517" y="825">24 Aug 20:00</text><rect x="581" y="812" width="1" height="4" fill="#000"/><text x="581" y="825">25 Aug 12:00</text><rect x="645" y="812" width="1" height="4" fill="#000"/><text x="645" y="825">28 Aug 00:00</text><rect x="709" y="812" width="1" height="4" fill="#000"/><text x="709" y="825">28 Aug 16:00</text><rect x="773" y="812" width="1" height="4" fill="#000"/><text x="773" y="825">29 Aug 08:00</text><rect x="837" y="812" width="1" height="4" fill="#000"/><text x="837" y="825">30 Aug 00:00</text><rect x="901" y="812" width="1" height="4" fill="#000"/><text x="901" y="825">30 Aug 16:00</text><rect x="965" y="812" width="1" height="4" fill="#000"/><text x="965" y="825">31 Aug 08:00</text><rect x="1029" y="812" width="1" height="4" fill="#000"/><text x="1029" y="825">1 Sep 00:00</text><rect x="1093" y="812" width="1" height="4" fill="#000"/><text x="1093" y="825">1 Sep 16:00</text><rect x="1157" y="812" width="1" height="4" fill="#000"/><text x="1157" y="825">4 Sep 04:00</text><rect x="1221" y="812" width="1" height="4" fill="#000"/><text x="1221" y="825">4 Sep 22:00</text><rect x="1285" y="812" width="1" height="4" fill="#000"/><text x="1285" y="825">5 Sep 12:00</text>
<rect x="1614" y="62" width="36" height="11" fill="#ff0000"/><text x="1618" y="71" fill="#fff" style="color:#fff">87.790</text><rect x="1614" y="93" width="36" height="11" fill="#ff0000"/><text x="1618" y="102" fill="#fff" style="color:#fff">87.216</text><rect x="1614" y="142" width="36" height="11" fill="#00bfff"/><text x="1618" y="151" fill="#fff" style="color:#fff">86.310</text><rect x="1614" y="175" width="36" height="11" fill="#0000ff"/><text x="1618" y="184" fill="#fff" style="color:#fff">85.699</text><rect x="1614" y="207" width="36" height="11" fill="#0000ff"/><text x="1618" y="216" fill="#fff" style="color:#fff">85.119</text><rect x="1614" y="124" width="36" height="11" fill="#000"/><text x="1618" y="133" fill="#fff" style="color:#fff">86.660</text>
<polygon points="8,34 15,34 11.5,38" fill="#000"/>
<text x="20" y="39">USOil-,H4  86.690 86.731 86.618 86.660</text>
<text x="9" y="650">MACD(12,26,9) 1.1231 1.1775</text>
<text x="9" y="741">RSI(14) 66.9656</text>
</g>
</svg>
</body></html>
